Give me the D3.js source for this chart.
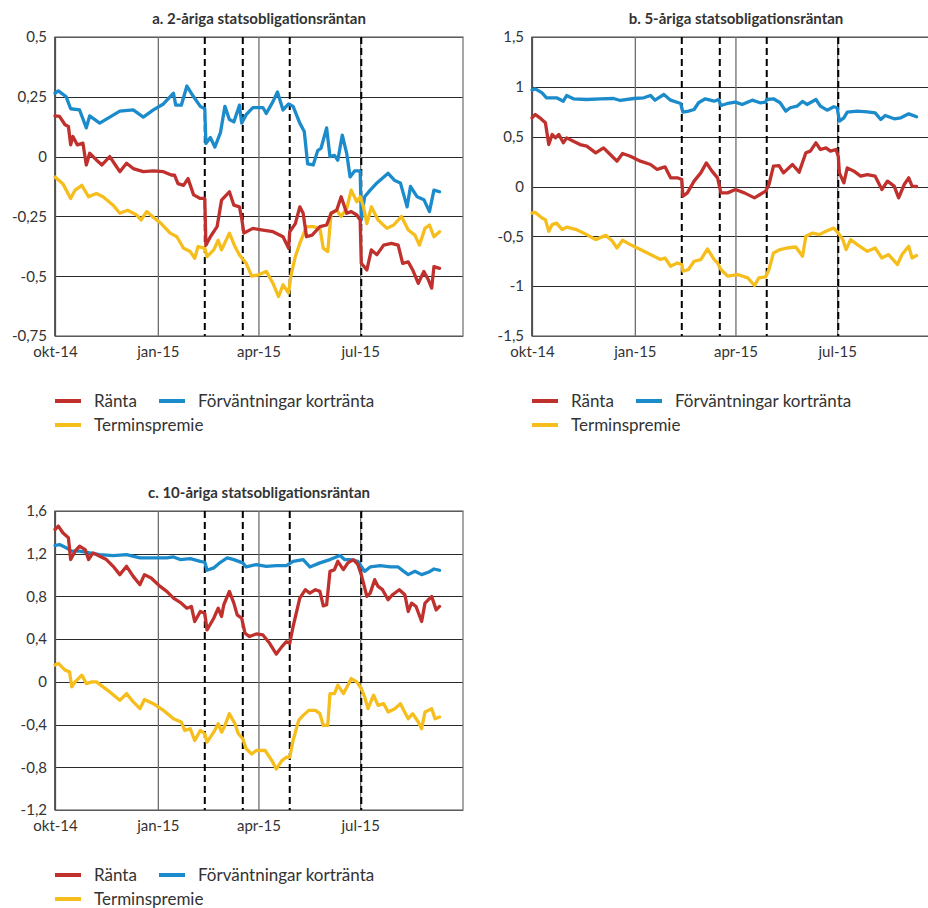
<!DOCTYPE html>
<html>
<head>
<meta charset="utf-8">
<script src="https://cdn.jsdelivr.net/npm/d3@7"></script>
<style>
  body { margin: 0; background: #fff; }
  svg text { font-family: Lato, "Open Sans", sans-serif; fill: #333; }
</style>
</head>
<body>
<div id="chart"></div>
<script>
////////////////////////////////////////////////////////////////////////
// Data. Each point is [days since 2014-10-01, percent]

let startDate = "2014-10-01";
let endDate = "2015-10-01";

// a. 2-year
let ranta2 = [[0,0.17],[4,0.168],[9,0.133],[12,0.126],[14,0.049],[16,0.084],[20,0.049],[25,0.056],[28,-0.035],[31,0.014],[37,-0.014],[42,-0.035],[49,0.0],[54,-0.035],[58,-0.063],[64,-0.028],[70,-0.05],[79,-0.063],[88,-0.06],[97,-0.063],[104,-0.077],[107,-0.078],[110,-0.113],[115,-0.12],[119,-0.092],[124,-0.16],[130,-0.175],[134,-0.175],[135,-0.37],[139,-0.335],[145,-0.293],[149,-0.182],[156,-0.147],[160,-0.203],[165,-0.21],[167,-0.258],[169,-0.32],[177,-0.3],[186,-0.307],[195,-0.314],[204,-0.335],[209,-0.383],[210,-0.314],[215,-0.28],[219,-0.21],[222,-0.237],[225,-0.335],[230,-0.328],[237,-0.293],[243,-0.286],[247,-0.237],[252,-0.224],[256,-0.168],[261,-0.237],[265,-0.23],[270,-0.244],[273,-0.265],[274,-0.446],[279,-0.474],[283,-0.39],[288,-0.41],[294,-0.37],[301,-0.363],[307,-0.37],[311,-0.446],[316,-0.44],[320,-0.474],[325,-0.53],[330,-0.48],[334,-0.515],[337,-0.55],[339,-0.46],[344,-0.467]];
let forv2 = [[0,0.265],[3,0.275],[10,0.25],[14,0.2],[22,0.195],[28,0.12],[31,0.17],[40,0.14],[49,0.165],[58,0.19],[70,0.195],[79,0.165],[88,0.195],[97,0.22],[106,0.265],[108,0.215],[113,0.215],[118,0.295],[124,0.25],[130,0.21],[134,0.2],[135,0.055],[139,0.08],[143,0.04],[148,0.1],[152,0.21],[156,0.155],[160,0.145],[165,0.215],[167,0.14],[171,0.175],[177,0.205],[186,0.205],[189,0.18],[195,0.23],[199,0.27],[204,0.195],[209,0.22],[213,0.21],[219,0.14],[223,0.105],[226,-0.03],[231,-0.035],[235,0.025],[238,0.035],[243,0.12],[246,0.0],[250,0.005],[253,-0.015],[257,0.09],[261,0.012],[264,-0.085],[268,-0.06],[273,-0.06],[274,-0.265],[277,-0.168],[282,-0.14],[288,-0.11],[298,-0.07],[304,-0.1],[309,-0.11],[315,-0.21],[318,-0.125],[324,-0.168],[330,-0.18],[335,-0.23],[339,-0.14],[344,-0.147]];
let term2 = [[0,-0.085],[7,-0.113],[14,-0.175],[18,-0.14],[24,-0.12],[30,-0.168],[37,-0.154],[43,-0.168],[52,-0.203],[58,-0.237],[65,-0.224],[73,-0.244],[77,-0.265],[82,-0.23],[89,-0.258],[95,-0.28],[103,-0.32],[109,-0.335],[115,-0.383],[121,-0.397],[125,-0.425],[128,-0.376],[134,-0.383],[136,-0.418],[142,-0.39],[146,-0.35],[149,-0.39],[156,-0.32],[161,-0.376],[165,-0.411],[171,-0.446],[176,-0.5],[182,-0.494],[189,-0.48],[195,-0.53],[200,-0.585],[204,-0.536],[209,-0.57],[211,-0.5],[215,-0.418],[219,-0.363],[225,-0.293],[231,-0.293],[237,-0.3],[240,-0.383],[244,-0.397],[247,-0.237],[252,-0.224],[256,-0.25],[261,-0.217],[265,-0.14],[270,-0.189],[273,-0.168],[276,-0.21],[279,-0.28],[283,-0.21],[289,-0.265],[297,-0.3],[303,-0.286],[310,-0.25],[316,-0.307],[322,-0.328],[326,-0.37],[331,-0.3],[335,-0.286],[339,-0.335],[344,-0.314]];

// b. 5-year
let ranta5 = [[0,0.689],[3,0.722],[7,0.689],[12,0.639],[15,0.421],[18,0.522],[21,0.488],[24,0.522],[28,0.438],[31,0.488],[37,0.455],[43,0.421],[49,0.405],[57,0.338],[64,0.388],[70,0.321],[76,0.254],[81,0.331],[88,0.304],[97,0.254],[106,0.221],[112,0.171],[116,0.187],[119,0.197],[124,0.087],[130,0.087],[134,0.07],[135,-0.097],[139,-0.064],[145,0.054],[151,0.137],[156,0.237],[161,0.154],[166,0.087],[169,-0.064],[175,-0.064],[182,-0.03],[190,-0.064],[199,-0.114],[204,-0.08],[209,-0.047],[212,0.02],[216,0.204],[221,0.21],[225,0.137],[233,0.221],[239,0.144],[245,0.338],[249,0.355],[254,0.438],[258,0.371],[263,0.388],[267,0.355],[272,0.371],[274,0.304],[275,0.137],[279,0.037],[282,0.187],[288,0.154],[294,0.104],[300,0.12],[307,0.104],[313,-0.03],[318,0.054],[324,0.004],[328,-0.114],[333,0.02],[337,0.087],[340,0.004],[344,0.0]];
let forv5 = [[0,0.967],[3,0.98],[9,0.94],[13,0.89],[22,0.89],[28,0.856],[31,0.913],[37,0.88],[49,0.873],[61,0.88],[73,0.883],[79,0.863],[91,0.883],[100,0.89],[106,0.913],[110,0.866],[118,0.923],[124,0.866],[133,0.833],[135,0.746],[140,0.756],[145,0.773],[149,0.84],[155,0.88],[163,0.856],[167,0.873],[169,0.813],[175,0.833],[182,0.846],[188,0.823],[197,0.866],[204,0.84],[209,0.846],[210,0.873],[216,0.88],[222,0.84],[227,0.756],[231,0.79],[237,0.806],[242,0.853],[246,0.823],[254,0.873],[258,0.806],[264,0.766],[270,0.8],[273,0.79],[275,0.656],[279,0.689],[282,0.746],[291,0.756],[300,0.749],[307,0.739],[312,0.672],[316,0.712],[324,0.679],[330,0.689],[337,0.729],[344,0.699]];
let term5 = [[0,-0.267],[3,-0.26],[9,-0.317],[12,-0.333],[15,-0.45],[18,-0.383],[22,-0.367],[27,-0.433],[31,-0.407],[40,-0.433],[49,-0.483],[57,-0.533],[66,-0.49],[72,-0.55],[76,-0.617],[81,-0.54],[88,-0.583],[97,-0.633],[106,-0.683],[115,-0.733],[119,-0.717],[124,-0.8],[130,-0.767],[134,-0.783],[135,-0.85],[140,-0.833],[145,-0.75],[151,-0.733],[157,-0.627],[163,-0.733],[166,-0.767],[169,-0.833],[175,-0.9],[184,-0.883],[193,-0.917],[199,-0.993],[203,-0.917],[209,-0.907],[212,-0.833],[216,-0.667],[222,-0.633],[228,-0.617],[236,-0.607],[242,-0.7],[245,-0.5],[251,-0.467],[257,-0.483],[263,-0.45],[270,-0.417],[274,-0.467],[278,-0.533],[281,-0.633],[285,-0.533],[291,-0.583],[300,-0.65],[307,-0.617],[313,-0.717],[319,-0.683],[327,-0.783],[331,-0.683],[337,-0.6],[340,-0.717],[344,-0.693]];

// c. 10-year
let ranta10 = [[0,1.427],[3,1.459],[7,1.396],[12,1.349],[14,1.145],[18,1.224],[22,1.271],[27,1.239],[30,1.145],[34,1.208],[40,1.176],[46,1.145],[52,1.082],[58,1.004],[64,1.082],[70,0.988],[76,0.91],[80,1.004],[86,0.973],[94,0.894],[100,0.847],[106,0.784],[113,0.737],[118,0.69],[122,0.706],[125,0.565],[130,0.659],[134,0.643],[136,0.486],[142,0.596],[146,0.69],[149,0.612],[151,0.722],[156,0.847],[160,0.737],[163,0.627],[167,0.596],[170,0.455],[174,0.424],[180,0.449],[186,0.439],[192,0.361],[198,0.26],[203,0.33],[207,0.376],[210,0.361],[213,0.518],[219,0.784],[224,0.863],[228,0.831],[233,0.863],[237,0.847],[240,0.712],[243,0.722],[246,1.035],[250,1.051],[253,1.129],[258,1.051],[262,1.114],[267,1.145],[271,1.098],[274,1.004],[279,0.8],[282,0.831],[286,0.957],[289,0.894],[293,0.863],[298,0.769],[302,0.816],[308,0.863],[313,0.816],[316,0.659],[319,0.737],[323,0.706],[328,0.565],[331,0.737],[337,0.8],[341,0.674],[344,0.706]];
let forv10 = [[0,1.277],[4,1.286],[10,1.255],[15,1.224],[22,1.224],[31,1.208],[40,1.192],[52,1.183],[64,1.192],[76,1.161],[88,1.161],[100,1.161],[106,1.17],[112,1.145],[121,1.154],[130,1.129],[134,1.12],[136,1.045],[142,1.067],[148,1.12],[154,1.161],[160,1.145],[168,1.114],[171,1.076],[180,1.098],[189,1.082],[198,1.089],[207,1.089],[213,1.129],[222,1.145],[228,1.076],[237,1.114],[246,1.145],[255,1.183],[259,1.145],[264,1.145],[271,1.129],[274,1.082],[277,1.035],[282,1.076],[291,1.089],[300,1.076],[307,1.076],[312,1.035],[316,1.004],[322,1.035],[328,1.004],[334,1.026],[339,1.057],[344,1.045]];
let term10 = [[0,0.157],[3,0.173],[9,0.11],[13,0.094],[15,-0.047],[18,0.0],[24,0.063],[28,-0.016],[33,0.0],[37,0.0],[43,-0.047],[49,-0.094],[58,-0.173],[64,-0.11],[70,-0.188],[76,-0.251],[80,-0.166],[88,-0.204],[97,-0.267],[106,-0.345],[113,-0.376],[116,-0.455],[121,-0.439],[125,-0.549],[130,-0.455],[134,-0.486],[136,-0.565],[142,-0.471],[146,-0.392],[149,-0.471],[152,-0.408],[156,-0.298],[161,-0.392],[164,-0.486],[168,-0.533],[171,-0.627],[176,-0.675],[180,-0.643],[188,-0.643],[194,-0.737],[198,-0.816],[203,-0.737],[207,-0.706],[210,-0.706],[213,-0.549],[218,-0.361],[222,-0.314],[227,-0.267],[233,-0.267],[237,-0.298],[240,-0.408],[244,-0.408],[246,-0.11],[250,-0.11],[253,-0.031],[258,-0.11],[262,-0.031],[265,0.031],[270,0.0],[274,-0.063],[277,-0.141],[280,-0.251],[285,-0.125],[289,-0.22],[294,-0.204],[298,-0.282],[304,-0.251],[309,-0.204],[312,-0.267],[316,-0.345],[320,-0.298],[325,-0.376],[328,-0.439],[331,-0.282],[337,-0.251],[340,-0.345],[344,-0.329]];

let seriesNames = ["Ränta", "Förväntningar kortränta", "Terminspremie"];
let seriesColors = ["#c0302d", "#1b8bcb", "#f6be1c"];

let monthTicks = ["2014-10-01", "2015-01-01", "2015-04-01", "2015-07-01"];
let monthLabels = ["okt-14", "jan-15", "apr-15", "jul-15"];

// Riksbank decision dates (dashed lines)
let decisionDates = ["2015-02-12", "2015-03-18", "2015-04-29", "2015-07-02"];

let yTicksA = [0.5, 0.25, 0, -0.25, -0.5, -0.75];
let yTicksB = [1.5, 1, 0.5, 0, -0.5, -1, -1.5];
let yTicksC = [1.6, 1.2, 0.8, 0.4, 0, -0.4, -0.8, -1.2];

////////////////////////////////////////////////////////////////////////

let parseDate = d3.timeParse("%Y-%m-%d");
let start = parseDate(startDate);
let comma = v => String(v).replace(".", ",");

let svg = d3.select("#chart")
  .append("svg")
  .attr("width", 928).attr("height", 908);

function makePanel(left, top, title, yTicks, series)
{
  let width = 408;
  let height = 299;

  let xScale = d3.scaleTime()
    .domain([start, parseDate(endDate)])
    .range([left, left + width]);

  let yScale = d3.scaleLinear()
    .domain(d3.extent(yTicks))
    .range([top + height, top]);

  let g = svg.append("g");

  // horizontal grid + value labels
  let yAxis = d3.axisLeft(yScale)
    .tickValues(yTicks)
    .tickSize(-width)
    .tickPadding(8)
    .tickFormat(comma);

  g.append("g")
    .attr("transform", `translate(${left},0)`)
    .call(yAxis)
    .call(a => a.select(".domain").remove())
    .call(a => a.selectAll("line")
      .attr("stroke", "#2a2a2a")
      .attr("shape-rendering", "crispEdges"))
    .call(a => a.selectAll("text")
      .attr("font-size", 15)
      .attr("fill", "#333"));

  // month gridlines + labels
  let xAxis = d3.axisBottom(xScale)
    .tickValues(monthTicks.map(parseDate))
    .tickSize(-height)
    .tickPadding(10)
    .tickFormat((d, i) => monthLabels[i]);

  g.append("g")
    .attr("transform", `translate(0,${top + height})`)
    .call(xAxis)
    .call(a => a.select(".domain").remove())
    .call(a => a.selectAll("line")
      .attr("stroke", "#6e6e6e")
      .attr("stroke-width", 1.3))
    .call(a => a.selectAll("text")
      .attr("font-size", 15)
      .attr("fill", "#333"));

  // frame
  g.append("rect")
    .attr("x", left).attr("y", top)
    .attr("width", width).attr("height", height)
    .attr("fill", "none")
    .attr("stroke", "#777")
    .attr("stroke-width", 1.3);

  g.append("line")
    .attr("x1", left).attr("x2", left)
    .attr("y1", top).attr("y2", top + height)
    .attr("stroke", "#444").attr("stroke-width", 1.5);

  // dashed decision lines
  g.append("g")
    .selectAll("line")
    .data(decisionDates.map(parseDate))
    .join("line")
    .attr("x1", d => xScale(d)).attr("x2", d => xScale(d))
    .attr("y1", top).attr("y2", top + height)
    .attr("stroke", "#000")
    .attr("stroke-width", 2)
    .attr("stroke-dasharray", "7,4");

  let line = d3.line()
    .x(d => xScale(d3.timeDay.offset(start, d[0])))
    .y(d => yScale(d[1]));

  // draw order: blue under, then yellow, red on top like the reference
  [1, 2, 0].forEach(i => {
    g.append("path")
      .datum(series[i])
      .attr("d", line)
      .attr("fill", "none")
      .attr("stroke", seriesColors[i])
      .attr("stroke-width", 3.3)
      .attr("stroke-linejoin", "round")
      .attr("stroke-linecap", "round");
  });

  // title
  g.append("text")
    .attr("x", left + width / 2)
    .attr("y", top - 13)
    .attr("text-anchor", "middle")
    .attr("font-size", 15)
    .attr("font-weight", "bold")
    .text(title);

  // legend
  let legendPos = [[0, 65], [104, 65], [0, 89]];
  let legend = g.append("g")
    .selectAll("g")
    .data(seriesNames)
    .join("g")
    .attr("transform", (d, i) => `translate(${left + legendPos[i][0]},${top + height + legendPos[i][1]})`);

  legend.append("line")
    .attr("x1", 0).attr("x2", 26)
    .attr("stroke", (d, i) => seriesColors[i])
    .attr("stroke-width", 4);

  legend.append("text")
    .attr("x", 39)
    .attr("dy", "0.35em")
    .attr("font-size", 17)
    .text(d => d);

  return {xScale: xScale, yScale: yScale};
}

makePanel(55, 37, "a. 2-åriga statsobligationsräntan", yTicksA, [ranta2, forv2, term2]);
makePanel(532, 37, "b. 5-åriga statsobligationsräntan", yTicksB, [ranta5, forv5, term5]);
makePanel(55, 511, "c. 10-åriga statsobligationsräntan", yTicksC, [ranta10, forv10, term10]);
</script>
</body>
</html>
